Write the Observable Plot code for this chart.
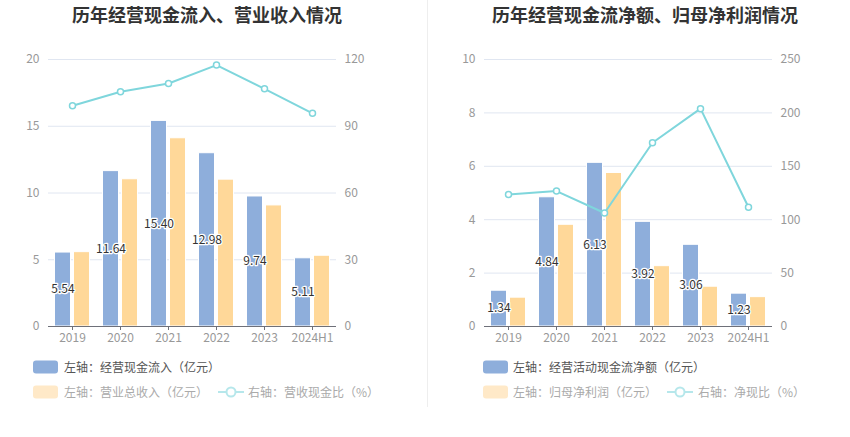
<!DOCTYPE html>
<html><head><meta charset="utf-8">
<script src="https://cdn.jsdelivr.net/npm/d3@7"></script>
<script src="https://cdn.jsdelivr.net/npm/@observablehq/plot@0.6"></script>
<style>
body{margin:0;background:#fff;font-family:"Noto Sans CJK SC","Noto Sans",sans-serif;}
#root{position:relative;width:850px;height:437px;overflow:hidden;background:#fff}
.title{position:absolute;top:4px;font-size:18px;line-height:20px;font-weight:bold;color:#333;white-space:nowrap;transform:translateX(-50%)}
.panel{position:absolute;top:30px}
.leg{position:absolute;font-size:12px;line-height:14px;white-space:nowrap;transform:translateY(-50%);display:flex;align-items:center}
.sw{position:absolute;width:25px;height:13px;border-radius:3px;transform:translateY(-50%)}
.divider{position:absolute;left:427px;top:0;width:1px;height:407px;background:#eeeeee}
</style></head>
<body><div id="root"></div>
<script>
const years = ["2019","2020","2021","2022","2023","2024H1"];
// left chart
const cashInflow = [5.54, 11.64, 15.40, 12.98, 9.74, 5.11];
const revenue = [5.57, 11.03, 14.10, 11.00, 9.07, 5.30];
const cashRevenueRatio = [99.2, 105.5, 109.2, 117.5, 106.8, 95.8];
const leftTicksA = [0, 5, 10, 15, 20];
// right chart
const netCashFlow = [1.34, 4.84, 6.13, 3.92, 3.06, 1.23];
const netProfit = [1.08, 3.81, 5.75, 2.26, 1.49, 1.10];
const netCashRatio = [123.5, 126.8, 106.3, 172.0, 204.0, 111.6];
const leftTicksB = [0, 2, 4, 6, 8, 10];

const FONT = '"Noto Sans CJK SC","Noto Sans",sans-serif';
const BLUE = "#8eaedb", ORANGE = "#ffd899", CYAN = "#7fd6dc";

function chart({bars1, bars2, ratio, leftMax, rightMax, ticks, marginLeft, marginRight}) {
  const k = leftMax / rightMax;
  const data = years.map((y, i) => ({year: y, a: bars1[i], b: bars2[i], r: ratio[i]}));
  return Plot.plot({
    width: 425, height: 320,
    marginTop: 29, marginBottom: 24, marginLeft, marginRight,
    style: {fontFamily: FONT, fontSize: "12px", color: "#999", background: "transparent", overflow: "visible"},
    x: {domain: years, paddingInner: 2/3, paddingOuter: 1/3, label: null},
    y: {domain: [0, leftMax], label: null},
    marks: [
      Plot.gridY(ticks.filter(t => t > 0), {stroke: "#e0e6f1", strokeOpacity: 1}),
      Plot.axisY(ticks, {anchor: "left", tickSize: 0, tickPadding: 9, label: null, fill: "#999"}),
      Plot.axisY(ticks, {anchor: "right", tickSize: 0, tickPadding: 8, label: null, fill: "#999",
        tickFormat: d => String(Math.round(d / k))}),
      Plot.barY(data, {x: "year", y: "a", fill: BLUE, stroke: "white", strokeWidth: 1, dx: -9.5}),
      Plot.barY(data, {x: "year", y: "b", fill: ORANGE, stroke: "white", strokeWidth: 1, dx: 9.5}),
      Plot.ruleY([0], {stroke: "#6e7079"}),
      Plot.axisX({tickSize: 4, tickPadding: 3, stroke: "#6e7079", fill: "#999", label: null}),
      Plot.line(data, {x: "year", y: d => d.r * k, stroke: CYAN, strokeWidth: 2}),
      Plot.dot(data, {x: "year", y: d => d.r * k, r: 3, fill: "white", stroke: CYAN, strokeWidth: 1.5}),
      Plot.text(data, {x: "year", y: d => d.a / 2, text: d => d.a.toFixed(2), dx: -9.5,
        fill: "#333", stroke: "white", strokeWidth: 2.5, paintOrder: "stroke", fontSize: 12})
    ]
  });
}

const root = document.getElementById("root");
function add(html) { root.insertAdjacentHTML("beforeend", html); }

add('<div class="title" style="left:207px">历年经营现金流入、营业收入情况</div>');
add('<div class="title" style="left:645px">历年经营现金流净额、归母净利润情况</div>');
add('<div class="divider"></div>');

const c1 = chart({bars1: cashInflow, bars2: revenue, ratio: cashRevenueRatio, leftMax: 20, rightMax: 120,
  ticks: leftTicksA, marginLeft: 48, marginRight: 89});
const p1 = document.createElement("div"); p1.className = "panel"; p1.style.left = "0px"; p1.appendChild(c1); root.appendChild(p1);

const c2 = chart({bars1: netCashFlow, bars2: netProfit, ratio: netCashRatio, leftMax: 10, rightMax: 250,
  ticks: leftTicksB, marginLeft: 59, marginRight: 78});
const p2 = document.createElement("div"); p2.className = "panel"; p2.style.left = "425px"; p2.appendChild(c2); root.appendChild(p2);

function lineIcon(x, y) {
  add(`<svg style="position:absolute;left:${x}px;top:${y - 7}px" width="26" height="14"><line x1="0" y1="7" x2="26" y2="7" stroke="#b6e7eb" stroke-width="2"/><circle cx="13" cy="7" r="4.5" fill="white" stroke="#b6e7eb" stroke-width="2"/></svg>`);
}
function legend(sx, tx, lx, ltx, t1, t2, t3) {
  add(`<div class="sw" style="left:${sx}px;top:367px;background:${BLUE}"></div>`);
  add(`<div class="leg" style="left:${tx}px;top:367px;color:#555">${t1}</div>`);
  add(`<div class="sw" style="left:${sx}px;top:391.5px;background:#ffe9c8"></div>`);
  add(`<div class="leg" style="left:${tx}px;top:391.5px;color:#aaa">${t2}</div>`);
  lineIcon(lx, 391.5);
  add(`<div class="leg" style="left:${ltx}px;top:391.5px;color:#aaa">${t3}</div>`);
}
legend(33, 64, 218, 248, "左轴：经营现金流入（亿元）", "左轴：营业总收入（亿元）", "右轴：营收现金比（%）");
legend(483, 513, 667, 698, "左轴：经营活动现金流净额（亿元）", "左轴：归母净利润（亿元）", "右轴：净现比（%）");
</script>
</body></html>
